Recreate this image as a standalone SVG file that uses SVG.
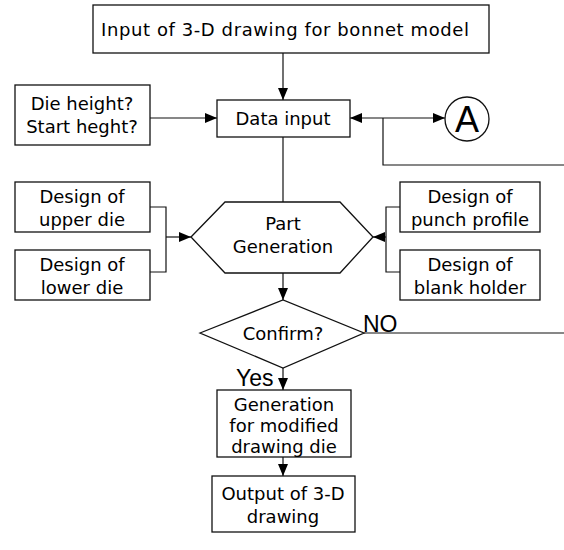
<svg xmlns="http://www.w3.org/2000/svg" width="564" height="550" viewBox="0 0 564 550">
<defs>
<marker id="ah" viewBox="0 0 12 10" refX="12" refY="5" markerWidth="12" markerHeight="10" markerUnits="userSpaceOnUse" orient="auto-start-reverse">
<path d="M0,0 L12,5 L0,10 Z" fill="#000"/>
</marker>
</defs>
<style>
.box{fill:#fff;stroke:#111;stroke-width:1.3}
.ln{fill:none;stroke:#111;stroke-width:1.2}
.t{font-family:"DejaVu Sans","Liberation Sans",sans-serif;font-size:18px;fill:#000;text-anchor:middle}
.big{font-family:"Liberation Sans","DejaVu Sans",sans-serif;font-size:23px;fill:#000}
</style>
<rect width="564" height="550" fill="#fff"/>
<g id="connectors">
<line class="ln" x1="283" y1="53" x2="283" y2="100" marker-end="url(#ah)"/>
<line class="ln" x1="150" y1="118" x2="217" y2="118" marker-end="url(#ah)"/>
<line class="ln" x1="350" y1="118" x2="445" y2="118" marker-start="url(#ah)" marker-end="url(#ah)"/>
<polyline class="ln" points="383,118 383,165 564,165"/>
<line class="ln" x1="283" y1="137" x2="283" y2="202"/>
<polyline class="ln" points="150,207 166,207 166,272 150,272"/>
<line class="ln" x1="166" y1="237" x2="191" y2="237" marker-end="url(#ah)"/>
<polyline class="ln" points="400,207 386,207 386,272 400,272"/>
<line class="ln" x1="386" y1="237" x2="373" y2="237" marker-end="url(#ah)"/>
<line class="ln" x1="283" y1="273" x2="283" y2="300" marker-end="url(#ah)"/>
<line class="ln" x1="364" y1="333" x2="564" y2="333"/>
<line class="ln" x1="283" y1="368" x2="283" y2="390" marker-end="url(#ah)"/>
<line class="ln" x1="283" y1="457" x2="283" y2="476" marker-end="url(#ah)"/>
</g>
<g id="n-input3d">
<rect class="box" x="93" y="5" width="396" height="48"/>
<text class="t" x="285" y="36" font-size="19" textLength="368">Input of 3-D drawing for bonnet model</text>
</g>
<g id="n-dieheight">
<rect class="box" x="15" y="85" width="135" height="60"/>
<text class="t" x="82" y="110">Die height?</text>
<text class="t" x="82" y="133">Start heght?</text>
</g>
<g id="n-datainput">
<rect class="box" x="217" y="100" width="133" height="37"/>
<text class="t" x="283" y="125">Data input</text>
</g>
<g id="n-a">
<circle class="box" cx="467" cy="119" r="22"/>
<text x="467" y="132" font-family="Liberation Sans, sans-serif" font-size="36" text-anchor="middle" fill="#000">A</text>
</g>
<g id="n-upper">
<rect class="box" x="15" y="182" width="135" height="50"/>
<text class="t" x="82" y="203">Design of</text>
<text class="t" x="82" y="226">upper die</text>
</g>
<g id="n-lower">
<rect class="box" x="15" y="250" width="135" height="50"/>
<text class="t" x="82" y="271">Design of</text>
<text class="t" x="82" y="294">lower die</text>
</g>
<g id="n-part">
<polygon class="box" points="191,237 225,202 340,202 373,237 340,273 225,273"/>
<text class="t" x="283" y="230">Part</text>
<text class="t" x="283" y="253">Generation</text>
</g>
<g id="n-punch">
<rect class="box" x="400" y="182" width="140" height="50"/>
<text class="t" x="470" y="203">Design of</text>
<text class="t" x="470" y="226">punch profile</text>
</g>
<g id="n-blank">
<rect class="box" x="400" y="250" width="140" height="50"/>
<text class="t" x="470" y="271">Design of</text>
<text class="t" x="470" y="294">blank holder</text>
</g>
<g id="n-confirm">
<polygon class="box" points="200,333 283,300 364,333 283,368"/>
<text class="t" x="283" y="340">Confirm?</text>
<text class="big" x="363" y="332">NO</text>
</g>
<text class="big" x="236" y="386" font-size="21">Yes</text>
<g id="n-generation">
<rect class="box" x="217" y="390" width="134" height="67"/>
<text class="t" x="284" y="411">Generation</text>
<text class="t" x="284" y="432">for modified</text>
<text class="t" x="284" y="453">drawing die</text>
</g>
<g id="n-output">
<rect class="box" x="212" y="476" width="143" height="56"/>
<text class="t" x="283" y="500">Output of 3-D</text>
<text class="t" x="283" y="523">drawing</text>
</g>
</svg>
